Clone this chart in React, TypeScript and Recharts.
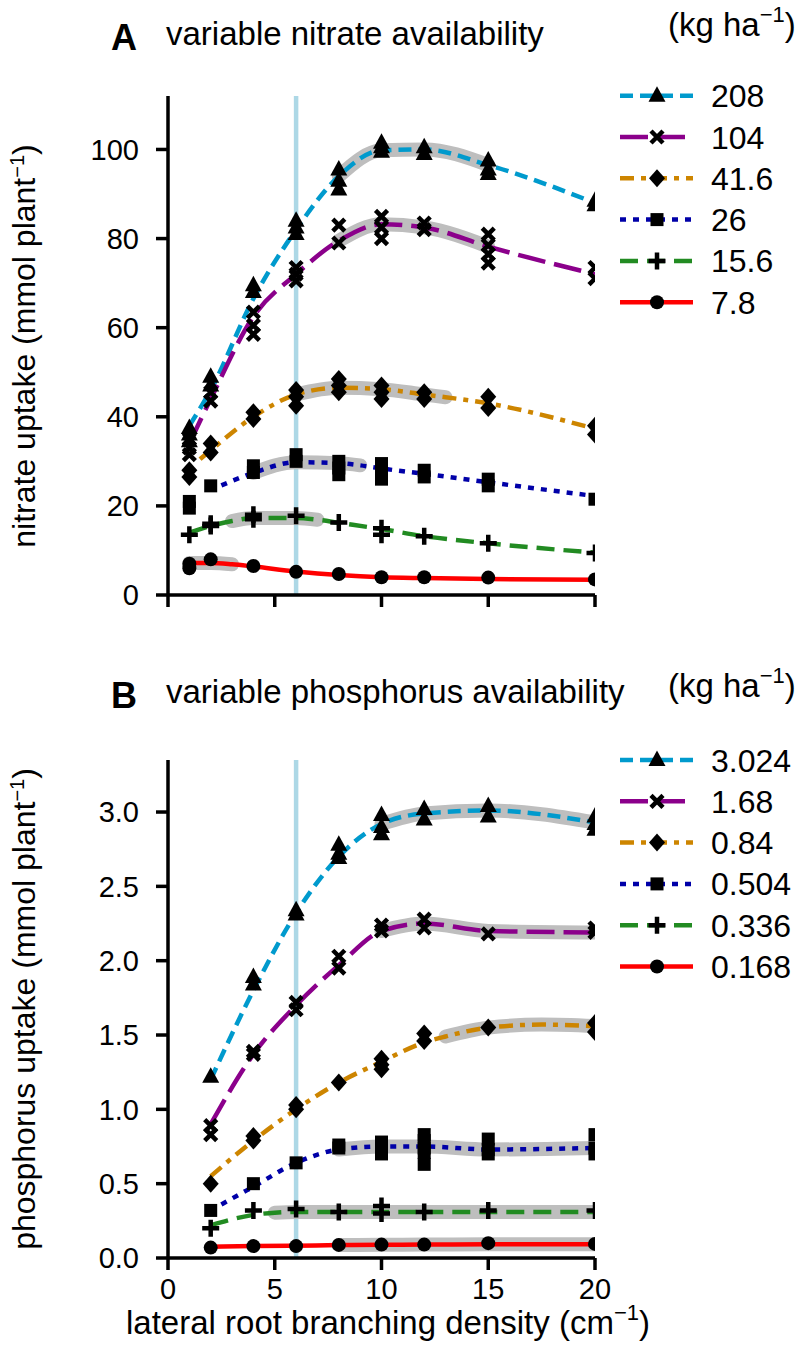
import React from 'react';
import { ComposedChart, Line, Scatter, XAxis, YAxis, ReferenceLine } from 'recharts';

const FONT = '"Liberation Sans", Arial, Helvetica, sans-serif';

// ---- panel A: variable nitrate availability (kg ha-1) ----
const levelsA = ['208', '104', '41.6', '26', '15.6', '7.8'];
const xsA = [1, 2, 4, 6, 8, 10, 12, 15, 20];

// replicate uptake values at each x in xsA
const repsA208 = [[37.5, 36, 34.5], [49, 47], [69.5, 68], [84, 82.5, 81], [95.5, 93, 91], [101.5, 100.5, 99.5], [100.5, 99], [97.5, 95.5, 94.5], [88.5, 87.5]];
const repsA104 = [[35, 33, 31.5], [45.5, 43.5], [63.5, 60.5, 58.5], [73.5, 72, 70.5], [83, 79], [85, 82.5, 80], [83.5, 82], [81, 78.5, 76.5, 74.5], [73.5, 71]];
const repsA416 = [[28, 26.5], [34, 32], [41, 39.5], [46, 44.5, 42.5], [48.5, 47, 45.5], [47, 45.5, 44], [45.5, 44], [44.5, 42], [38, 36]];
const repsA26 = [[21, 19.5], [24.5], [29, 27.5], [31.5, 30], [30, 28.5, 27], [29.5, 27.5, 26], [28, 26.5], [26, 24.5], [21.5]];
const repsA156 = [[13.5], [16, 15.5], [18, 17], [17.8], [16.3], [15, 13.5], [13.2], [11.6], [9.4]];
const repsA78 = [[7, 6], [8], [6.5], [5.2], [4.7], [4], [4], [3.9], [3.5]];

// fitted curves [x, y]
const fitA208 = [[1, 38], [2, 46], [4, 66.5], [6, 82], [8, 94], [10, 99.8], [12, 100], [15, 96.5], [20, 88]];
const fitA104 = [[1, 34], [2, 44], [4, 62.5], [6, 72], [8, 79.5], [10, 83.2], [12, 82.5], [15, 78.2], [20, 72]];
const fitA416 = [[1.5, 30.5], [2, 32.5], [4, 40], [6, 45], [8, 46.5], [10, 46.2], [12, 45], [13, 44.4], [15, 43], [20, 37.3]];
const fitA26 = [[2.5, 24.6], [4, 27.4], [6, 29.8], [8, 29.6], [9, 29.1], [10, 28.4], [12, 27.2], [15, 25.3], [20, 22.2]];
const fitA156 = [[1, 14], [2, 15.5], [3, 16.6], [4, 17.3], [6, 17.3], [7, 16.9], [8, 16.2], [10, 14.8], [12, 13.2], [15, 11.6], [20, 9.5]];
const fitA78 = [[1, 7.2], [2, 7.2], [3, 6.9], [4, 6.4], [6, 5.3], [8, 4.5], [10, 4], [12, 3.8], [15, 3.6], [20, 3.4]];

// highlighted (grey) ranges of each fit
const bandsA = [[8, 15], [8, 15], [6, 13], [4, 9], [3, 7], [1, 3]];

// ---- panel B: variable phosphorus availability (kg ha-1) ----
const levelsB = ['3.024', '1.68', '0.84', '0.504', '0.336', '0.168'];
const xsB = [2, 4, 6, 8, 10, 12, 15, 20];

const repsB3024 = [[1.22], [1.89, 1.84], [2.34, 2.31], [2.78, 2.72, 2.69], [2.98, 2.9, 2.85], [3.02, 2.95], [3.04, 2.97], [2.97, 2.92, 2.88]];
const repsB168 = [[0.89, 0.83], [1.39, 1.37], [1.72, 1.67], [2.03, 1.95], [2.24, 2.2], [2.28, 2.22], [2.18], [2.22, 2.19]];
const repsB084 = [[0.5], [0.82, 0.79], [1.03, 1.0], [1.18], [1.34, 1.3, 1.27], [1.51, 1.46], [1.55], [1.58, 1.52]];
const repsB0504 = [[0.32], [0.5], [0.64], [0.76, 0.74], [0.78, 0.74, 0.7], [0.83, 0.79, 0.74, 0.71, 0.63], [0.8, 0.73, 0.7], [0.83, 0.74, 0.7]];
const repsB0336 = [[0.2], [0.32], [0.33], [0.31], [0.35, 0.3], [0.31], [0.32], [0.32]];
const repsB0168 = [[0.07], [0.08], [0.08], [0.088], [0.09], [0.09], [0.1], [0.095]];

const fitB3024 = [[2, 1.2], [4, 1.8], [6, 2.32], [8, 2.7], [10, 2.92], [12, 2.99], [15, 3.01], [20, 2.93]];
const fitB168 = [[2, 0.9], [4, 1.37], [6, 1.7], [8, 1.97], [10, 2.2], [12, 2.25], [15, 2.2], [20, 2.19]];
const fitB084 = [[2, 0.55], [4, 0.79], [6, 1.0], [8, 1.18], [10, 1.32], [12, 1.45], [13, 1.49], [15, 1.55], [17.5, 1.57], [20, 1.56]];
const fitB0504 = [[2.5, 0.36], [4, 0.48], [6, 0.64], [8, 0.73], [10, 0.75], [12, 0.75], [15, 0.73], [20, 0.74]];
const fitB0336 = [[2, 0.22], [4, 0.29], [5, 0.305], [6, 0.31], [8, 0.31], [10, 0.31], [12, 0.31], [15, 0.31], [20, 0.31]];
const fitB0168 = [[2, 0.075], [4, 0.08], [6, 0.083], [8, 0.087], [10, 0.089], [12, 0.09], [15, 0.092], [20, 0.093]];

const bandsB = [[10, 20], [10, 20], [13, 20], [8, 20], [5, 20], [8, 20]];

const yTicksA = [0, 20, 40, 60, 80, 100];
const yTicksB = [0, 0.5, 1, 1.5, 2, 2.5, 3];
const xTicks = [0, 5, 10, 15, 20];

// series look, shared by both panels (order: highest level first)
const LOOK = [
  { color: '#009ACD', dash: '13 7', shape: 'tri' },
  { color: '#8B008B', dash: '28 9', shape: 'x' },
  { color: '#CD8500', dash: '14 7 5 7', shape: 'diamond' },
  { color: '#0000A8', dash: '6 7', shape: 'square' },
  { color: '#228B22', dash: '18 9', shape: 'plus' },
  { color: '#FF0000', dash: undefined, shape: 'circle' },
];

const Marker = ({ kind, cx, cy }: { kind: string; cx: number; cy: number }) => {
  if (cx == null || cy == null) return null;
  switch (kind) {
    case 'tri':
      return <polygon points={`${cx},${cy - 9.5} ${cx + 8.5},${cy + 6} ${cx - 8.5},${cy + 6}`} fill="#000" />;
    case 'x':
      return <path d={`M${cx - 6},${cy - 6}L${cx + 6},${cy + 6}M${cx - 6},${cy + 6}L${cx + 6},${cy - 6}`} stroke="#000" strokeWidth={4.5} />;
    case 'diamond':
      return <polygon points={`${cx},${cy - 9} ${cx + 8},${cy} ${cx},${cy + 9} ${cx - 8},${cy}`} fill="#000" />;
    case 'square':
      return <rect x={cx - 6.5} y={cy - 6.5} width={13} height={13} fill="#000" />;
    case 'plus':
      return <path d={`M${cx - 8.5},${cy}H${cx + 8.5}M${cx},${cy - 8.5}V${cy + 8.5}`} stroke="#000" strokeWidth={4.5} />;
    default:
      return <circle cx={cx} cy={cy} r={7} fill="#000" />;
  }
};

const toPoints = (xs: number[], reps: number[][]) =>
  xs.flatMap((x, i) => reps[i].map((y) => ({ x, y })));
const toLine = (fit: number[][]) => fit.map(([x, y]) => ({ x, y }));
const toBand = (fit: number[][], [lo, hi]: number[]) =>
  fit.filter(([x]) => x >= lo && x <= hi).map(([x, y]) => ({ x, y }));

const seriesA = [
  { reps: repsA208, fit: fitA208 },
  { reps: repsA104, fit: fitA104 },
  { reps: repsA416, fit: fitA416 },
  { reps: repsA26, fit: fitA26 },
  { reps: repsA156, fit: fitA156 },
  { reps: repsA78, fit: fitA78 },
];
const seriesB = [
  { reps: repsB3024, fit: fitB3024 },
  { reps: repsB168, fit: fitB168 },
  { reps: repsB084, fit: fitB084 },
  { reps: repsB0504, fit: fitB0504 },
  { reps: repsB0336, fit: fitB0336 },
  { reps: repsB0168, fit: fitB0168 },
];

const axisStyle = { stroke: '#000', strokeWidth: 3.5 };
const tickStyle = { fill: '#000', fontSize: 29, fontFamily: FONT };

type PanelProps = {
  height: number;
  margin: { top: number; right: number; bottom: number; left: number };
  xs: number[];
  series: { reps: number[][]; fit: number[][] }[];
  bands: number[][];
  yMax: number;
  yTicks: number[];
  fmt: (v: number) => string;
  xLabels: boolean;
};

const Panel = ({ height, margin, xs, series, bands, yMax, yTicks, fmt, xLabels }: PanelProps) => (
  <ComposedChart width={797} height={height} margin={margin} style={{ fontFamily: FONT }}>
    <XAxis
      type="number"
      dataKey="x"
      domain={[0, 20]}
      ticks={xTicks}
      interval={0}
      allowDataOverflow
      axisLine={axisStyle}
      tickLine={axisStyle}
      tickSize={12}
      tickMargin={8}
      tick={tickStyle}
      tickFormatter={(v) => (xLabels ? String(v) : '')}
      height={30}
    />
    <YAxis
      type="number"
      dataKey="y"
      domain={[0, yMax]}
      ticks={yTicks}
      interval={0}
      allowDataOverflow
      axisLine={axisStyle}
      tickLine={axisStyle}
      tickSize={12}
      tickMargin={17}
      tick={tickStyle}
      tickFormatter={fmt}
      width={60}
    />
    <ReferenceLine x={6} stroke="#ADD8E6" strokeWidth={4.5} />
    {series.map((s, i) => (
      <Line
        key={`band${i}`}
        data={toBand(s.fit, bands[i])}
        dataKey="y"
        type="monotone"
        stroke="#BEBEBE"
        strokeWidth={14}
        strokeLinecap="round"
        dot={false}
        activeDot={false}
        isAnimationActive={false}
      />
    ))}
    {series.map((s, i) => (
      <Line
        key={`fit${i}`}
        data={toLine(s.fit)}
        dataKey="y"
        type="monotone"
        stroke={LOOK[i].color}
        strokeWidth={4.5}
        strokeDasharray={LOOK[i].dash}
        dot={false}
        activeDot={false}
        isAnimationActive={false}
      />
    ))}
    {series.map((s, i) => (
      <Scatter
        key={`pts${i}`}
        data={toPoints(xs, s.reps)}
        dataKey="y"
        isAnimationActive={false}
        shape={(p: any) => <Marker kind={LOOK[i].shape} cx={p.cx} cy={p.cy} />}
      />
    ))}
  </ComposedChart>
);

const Sup = ({ children, lift = 14, size = 22 }: { children: string; lift?: number; size?: number }) => (
  <>
    <tspan dy={-lift} fontSize={size}>{children}</tspan>
    <tspan dy={lift}>)</tspan>
  </>
);

const LegendBlock = ({ top, labels }: { top: number; labels: string[] }) => (
  <g>
    {labels.map((lab, i) => {
      const y = top + i * 41.3;
      return (
        <g key={lab}>
          <line x1={620} x2={693} y1={y} y2={y} stroke={LOOK[i].color} strokeWidth={4.5} strokeDasharray={LOOK[i].dash} />
          <Marker kind={LOOK[i].shape} cx={657} cy={y} />
          <text x={711} y={y + 11.5} fontSize={32}>{lab}</text>
        </g>
      );
    })}
  </g>
);

const Overlay = () => (
  <svg
    width={797}
    height={1349}
    style={{ position: 'absolute', left: 0, top: 0, pointerEvents: 'none', fontFamily: FONT }}
  >
    {/* panel A headings */}
    <text x={111} y={50} fontSize={36} fontWeight="bold">A</text>
    <text x={166} y={45} fontSize={33}>variable nitrate availability</text>
    <text x={668} y={36} fontSize={33}>(kg ha<Sup>−1</Sup></text>
    <LegendBlock top={95.7} labels={levelsA} />
    <text transform="translate(35,346) rotate(-90)" textAnchor="middle" fontSize={32}>
      nitrate uptake (mmol plant<Sup lift={11} size={20}>−1</Sup>
    </text>

    {/* panel B headings */}
    <text x={111} y={708} fontSize={36} fontWeight="bold">B</text>
    <text x={166} y={703} fontSize={33}>variable phosphorus availability</text>
    <text x={668} y={697} fontSize={33}>(kg ha<Sup>−1</Sup></text>
    <LegendBlock top={760} labels={levelsB} />
    <text transform="translate(35,1009) rotate(-90)" textAnchor="middle" fontSize={32}>
      phosphorus uptake (mmol plant<Sup lift={11} size={20}>−1</Sup>
    </text>
    <text x={388} y={1334} textAnchor="middle" fontSize={33}>
      lateral root branching density (cm<Sup>−1</Sup>
    </text>
  </svg>
);

const App = () => (
  <div style={{ position: 'absolute', left: 0, top: 0, width: 797, height: 1349, background: '#fff' }}>
    <div style={{ position: 'absolute', left: 0, top: 0 }}>
      <Panel
        height={660}
        margin={{ top: 96, right: 202, bottom: 35, left: 108 }}
        xs={xsA}
        series={seriesA}
        bands={bandsA}
        yMax={112}
        yTicks={yTicksA}
        fmt={(v) => String(v)}
        xLabels={false}
      />
    </div>
    <div style={{ position: 'absolute', left: 0, top: 660 }}>
      <Panel
        height={689}
        margin={{ top: 100, right: 202, bottom: 61, left: 108 }}
        xs={xsB}
        series={seriesB}
        bands={bandsB}
        yMax={3.35}
        yTicks={yTicksB}
        fmt={(v) => v.toFixed(1)}
        xLabels
      />
    </div>
    <Overlay />
  </div>
);

export default App;
